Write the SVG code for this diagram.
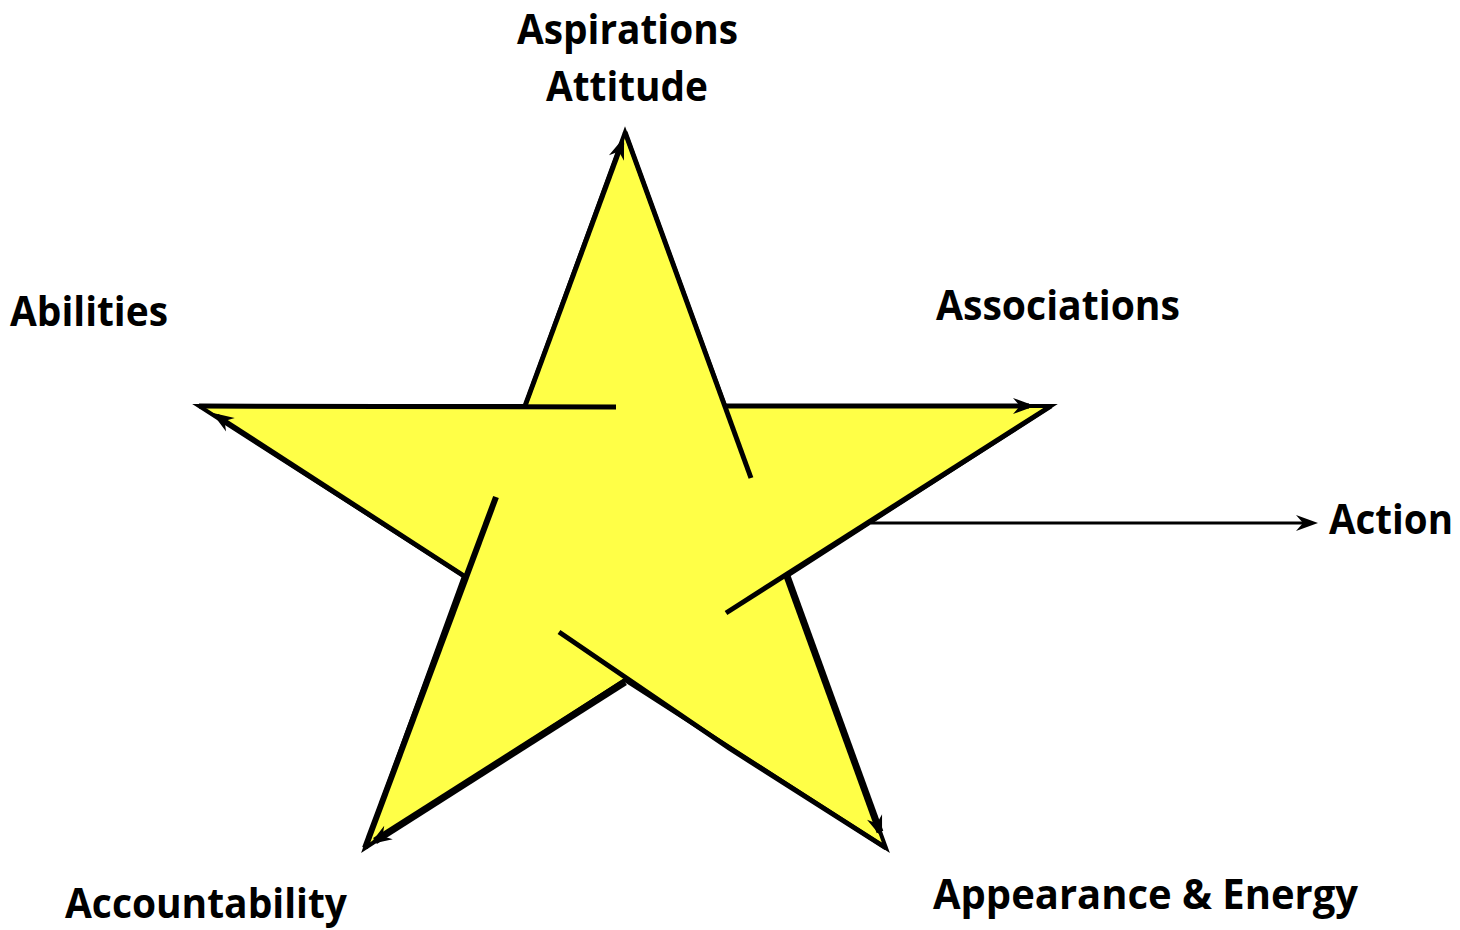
<svg xmlns="http://www.w3.org/2000/svg" width="1460" height="930" viewBox="0 0 1460 930">
  <style>
    .lbl { font-family: "Open Sans", "Liberation Sans", sans-serif; font-weight: 700; font-size: 41px; fill: #000; }
    .edge { stroke: #000; fill: none; stroke-linecap: butt; stroke-linejoin: miter; }
    .star { fill: #FFFF47; stroke: #000; stroke-width: 4; stroke-linejoin: miter; stroke-miterlimit: 10; }
  </style>
  <defs>
    <marker id="ah" viewBox="-24 -10 26 20" refX="-6" refY="0" markerWidth="26" markerHeight="20" markerUnits="userSpaceOnUse" orient="auto" overflow="visible">
      <path d="M0,0 L-22,-8 L-15,0 L-22,8 Z" fill="#000"/>
    </marker>
  </defs>
  <rect width="1460" height="930" fill="#fff"/>

  <g id="star">
    <polygon class="star" points="625,132 725,406 1051,406 787,576 886,848 625,680 365,848 464,576 199,406 525,406"/>
  </g>

  <g id="connectors">
    <line class="edge" stroke-width="6" x1="365" y1="848" x2="496" y2="497"/>
    <line class="edge" stroke-width="5" x1="525" y1="406" x2="622" y2="143" marker-end="url(#ah)"/>
    <line class="edge" stroke-width="5" x1="625" y1="132" x2="751" y2="478"/>
    <line class="edge" stroke-width="5" x1="725" y1="406" x2="1029" y2="406" marker-end="url(#ah)"/>
    <line class="edge" stroke-width="5" x1="1051" y1="406" x2="726" y2="613"/>
    <line class="edge" stroke-width="7" x1="787" y1="576" x2="880" y2="832" marker-end="url(#ah)"/>
    <polyline class="edge" stroke-width="5" points="886,848 729,748 559,632"/>
    <line class="edge" stroke-width="7" x1="625" y1="682" x2="375" y2="841" marker-end="url(#ah)"/>
    <line class="edge" stroke-width="5" x1="464" y1="576" x2="217" y2="416" marker-end="url(#ah)"/>
    <line class="edge" stroke-width="5" x1="199" y1="406" x2="616" y2="407"/>
    <line class="edge" stroke-width="3" x1="871" y1="523" x2="1312" y2="523" marker-end="url(#ah)"/>
  </g>

  <g id="label-aspirations"><text class="lbl" x="517" y="44" textLength="221" lengthAdjust="spacingAndGlyphs">Aspirations</text></g>
  <g id="label-attitude"><text class="lbl" x="546" y="101" textLength="162" lengthAdjust="spacingAndGlyphs">Attitude</text></g>
  <g id="label-abilities"><text class="lbl" x="10" y="326" textLength="158" lengthAdjust="spacingAndGlyphs">Abilities</text></g>
  <g id="label-associations"><text class="lbl" x="936" y="320" textLength="244" lengthAdjust="spacingAndGlyphs">Associations</text></g>
  <g id="label-action"><text class="lbl" x="1329" y="534" textLength="124" lengthAdjust="spacingAndGlyphs">Action</text></g>
  <g id="label-accountability"><text class="lbl" x="65" y="918" textLength="282" lengthAdjust="spacingAndGlyphs">Accountability</text></g>
  <g id="label-appearance"><text class="lbl" x="933" y="909" textLength="425" lengthAdjust="spacingAndGlyphs">Appearance &amp; Energy</text></g>
</svg>
